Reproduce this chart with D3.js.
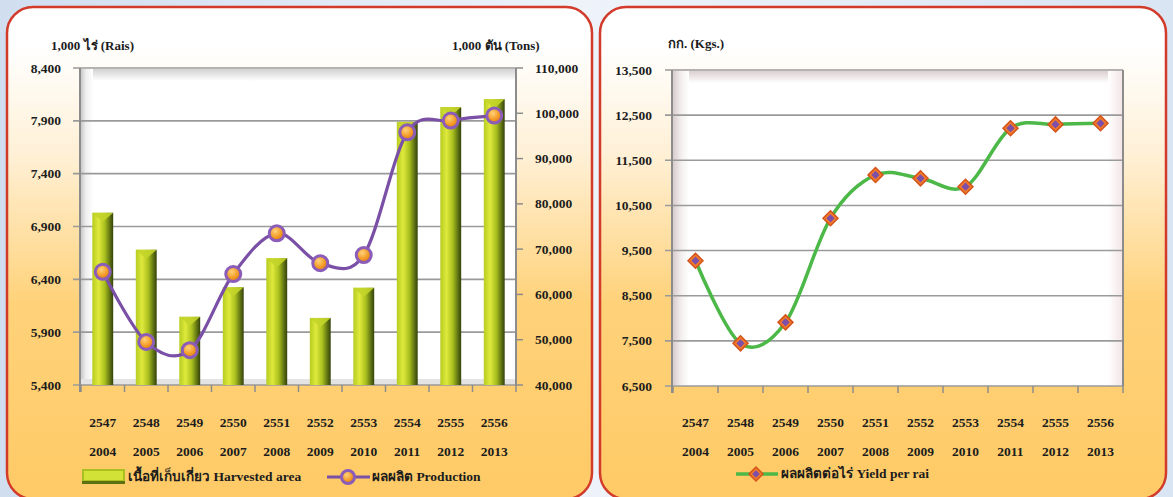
<!DOCTYPE html>
<html>
<head>
<meta charset="utf-8">
<script src="https://cdn.jsdelivr.net/npm/d3@7"></script>
<style>
  html, body { margin: 0; padding: 0; background: #ffffff; }
  svg { display: block; }
  text { font-family: "Liberation Serif", "Times New Roman", serif; font-weight: bold; fill: #1c1c1c; }
</style>
</head>
<body>
<svg id="chart" width="1173" height="497"></svg>
<script>
// data
var yearsBE = ["2547", "2548", "2549", "2550", "2551", "2552", "2553", "2554", "2555", "2556"];
var yearsCE = ["2004", "2005", "2006", "2007", "2008", "2009", "2010", "2011", "2012", "2013"];
var harvestedArea = [7030, 6680, 6045, 6325, 6600, 6035, 6320, 7890, 8030, 8105];
var production = [65000, 49500, 47700, 64500, 73500, 66900, 68700, 95800, 98400, 99500];
var yieldPerRai = [9275, 7445, 7910, 10215, 11175, 11100, 10915, 12210, 12295, 12320];
var areaTicks = [5400, 5900, 6400, 6900, 7400, 7900, 8400];
var prodTicks = [40000, 50000, 60000, 70000, 80000, 90000, 100000, 110000];
var yieldTicks = [6500, 7500, 8500, 9500, 10500, 11500, 12500, 13500];

var svg = d3.select("#chart");
var defs = svg.append("defs");
var fmt = d3.format(",");

function linGrad(id, x2, y2, stops) {
  var g = defs.append("linearGradient").attr("id", id)
    .attr("x1", 0).attr("y1", 0).attr("x2", x2).attr("y2", y2);
  stops.forEach(function (s) {
    g.append("stop").attr("offset", s[0]).attr("stop-color", s[1]);
  });
}

linGrad("bgGrad", 1, 0, [[0, "#d0def0"], [0.5, "#eef3fa"], [1, "#d9e5f3"]]);
linGrad("panelGrad", 0, 1, [[0, "#ffffff"], [0.08, "#ffffff"], [0.3, "#fff0d6"], [0.6, "#ffd27a"], [1, "#ffca66"]]);
linGrad("barGrad", 1, 0, [[0, "#b7cc22"], [0.3, "#dfe93c"], [0.6, "#a9bf1e"], [0.85, "#5d7012"], [1, "#34420a"]]);
linGrad("wallLeft", 1, 0, [[0, "#c9c9c9"], [0.4, "#eeeeee"], [1, "#ffffff"]]);
linGrad("wallTop", 0, 1, [[0, "#d2d2d2"], [1, "#ffffff"]]);
linGrad("wallLeftR", 1, 0, [[0, "#d8cccc"], [0.5, "#f3eeee"], [1, "#ffffff"]]);
linGrad("wallTopR", 0, 1, [[0, "#dccfcf"], [1, "#ffffff"]]);
linGrad("wallRightR", 1, 0, [[0, "#ffffff"], [1, "#f4e6e6"]]);
var rg = defs.append("radialGradient").attr("id", "dotGrad").attr("cx", 0.4).attr("cy", 0.35).attr("r", 0.7);
rg.append("stop").attr("offset", 0).attr("stop-color", "#ffd27a");
rg.append("stop").attr("offset", 0.6).attr("stop-color", "#f39a24");
rg.append("stop").attr("offset", 1).attr("stop-color", "#d9731a");

// page background + panels
svg.append("rect").attr("width", 1173).attr("height", 497).attr("fill", "url(#bgGrad)");
[[7, 585], [600, 566]].forEach(function (p) {
  svg.append("rect").attr("x", p[0]).attr("y", 7).attr("width", p[1]).attr("height", 492)
    .attr("rx", 26).attr("fill", "url(#panelGrad)")
    .attr("stroke", "#d23a2a").attr("stroke-width", 2.5);
});

// ---------- left chart ----------
var x1 = d3.scaleBand().domain(yearsBE).range([81, 516]);
var yArea = d3.scaleLinear().domain([5400, 8400]).range([385, 68]);
var yProd = d3.scaleLinear().domain([40000, 110000]).range([385, 68]);

var left = svg.append("g");
left.append("rect").attr("x", 80).attr("y", 68).attr("width", 436).attr("height", 317).attr("fill", "#ffffff");
left.append("rect").attr("x", 81).attr("y", 69).attr("width", 434).attr("height", 12).attr("fill", "url(#wallTop)");
left.append("rect").attr("x", 81).attr("y", 69).attr("width", 12).attr("height", 315).attr("fill", "url(#wallLeft)");
left.append("rect").attr("x", 81).attr("y", 379).attr("width", 434).attr("height", 6).attr("fill", "#e4e4e4");

left.append("g").selectAll("line").data(areaTicks).join("line")
  .attr("x1", 73).attr("x2", 516)
  .attr("y1", function (d) { return yArea(d); }).attr("y2", function (d) { return yArea(d); })
  .attr("stroke", "#9a9a9a").attr("stroke-width", 1.6);
left.append("line").attr("x1", 80).attr("x2", 80).attr("y1", 68).attr("y2", 392)
  .attr("stroke", "#8c8c8c").attr("stroke-width", 2);
left.append("line").attr("x1", 516).attr("x2", 516).attr("y1", 68).attr("y2", 385)
  .attr("stroke", "#8c8c8c").attr("stroke-width", 2);
left.append("g").selectAll("line").data(prodTicks).join("line")
  .attr("x1", 516).attr("x2", 523)
  .attr("y1", function (d) { return yProd(d); }).attr("y2", function (d) { return yProd(d); })
  .attr("stroke", "#8c8c8c").attr("stroke-width", 1.5);
left.append("g").selectAll("line").data(yearsBE.concat(["end"])).join("line")
  .attr("x1", function (d, i) { return 81 + i * x1.bandwidth(); })
  .attr("x2", function (d, i) { return 81 + i * x1.bandwidth(); })
  .attr("y1", 385).attr("y2", 392)
  .attr("stroke", "#8c8c8c").attr("stroke-width", 1.5);

// bars
var bw = x1.bandwidth() * 0.48;
var bars = left.append("g").selectAll("g").data(harvestedArea).join("g");
bars.append("rect")
  .attr("x", function (d, i) { return x1(yearsBE[i]) + x1.bandwidth() / 2 - bw / 2; })
  .attr("y", function (d) { return yArea(d); })
  .attr("width", bw)
  .attr("height", function (d) { return yArea(5400) - yArea(d); })
  .attr("fill", "url(#barGrad)");
bars.append("path")
  .attr("d", function (d, i) {
    var x0 = x1(yearsBE[i]) + x1.bandwidth() / 2 - bw / 2, y0 = yArea(d);
    return "M" + x0 + "," + y0 + "L" + (x0 + bw) + "," + y0 + "L" + (x0 + bw / 2) + "," + (y0 + 9) + "Z";
  })
  .attr("fill", "#c3d42a").attr("opacity", 0.9);

// production line
var smooth = d3.line()
  .x(function (d, i) { return x1(yearsBE[i]) + x1.bandwidth() / 2; })
  .y(function (d) { return yProd(d); })
  .curve(d3.curveCardinal.tension(0));
left.append("path").datum(production).attr("d", smooth)
  .attr("fill", "none").attr("stroke", "#7a4fa6").attr("stroke-width", 3.2);
left.append("g").selectAll("circle").data(production).join("circle")
  .attr("cx", function (d, i) { return x1(yearsBE[i]) + x1.bandwidth() / 2; })
  .attr("cy", function (d) { return yProd(d); })
  .attr("r", 7.5)
  .attr("fill", "url(#dotGrad)").attr("stroke", "#8b5cb8").attr("stroke-width", 3);

// axis labels
left.append("g").selectAll("text").data(areaTicks).join("text")
  .attr("x", 61).attr("y", function (d) { return yArea(d) + 4.5; })
  .attr("text-anchor", "end").attr("font-size", 13.5).text(fmt);
left.append("g").selectAll("text").data(prodTicks).join("text")
  .attr("x", 535).attr("y", function (d) { return yProd(d) + 4.5; })
  .attr("font-size", 13.5).text(fmt);
left.append("g").selectAll("text").data(yearsBE).join("text")
  .attr("x", function (d) { return x1(d) + x1.bandwidth() / 2; }).attr("y", 427)
  .attr("text-anchor", "middle").attr("font-size", 13.5).text(function (d) { return d; });
left.append("g").selectAll("text").data(yearsCE).join("text")
  .attr("x", function (d, i) { return x1(yearsBE[i]) + x1.bandwidth() / 2; }).attr("y", 456)
  .attr("text-anchor", "middle").attr("font-size", 13.5).text(function (d) { return d; });
left.append("text").attr("x", 51).attr("y", 50).attr("font-size", 13).text("1,000 ไร่ (Rais)");
left.append("text").attr("x", 452).attr("y", 50).attr("font-size", 13).text("1,000 ตัน (Tons)");

// legend
left.append("rect").attr("x", 82).attr("y", 469).attr("width", 43).attr("height", 15).attr("fill", "#a9c020");
left.append("rect").attr("x", 84).attr("y", 471).attr("width", 39).attr("height", 9).attr("fill", "#d2e236");
left.append("rect").attr("x", 82).attr("y", 481).attr("width", 43).attr("height", 3).attr("fill", "#5d7012");
left.append("text").attr("x", 128).attr("y", 481).attr("font-size", 13.5).text("เนื้อที่เก็บเกี่ยว Harvested area");
left.append("line").attr("x1", 327).attr("x2", 370).attr("y1", 477).attr("y2", 477)
  .attr("stroke", "#7a4fa6").attr("stroke-width", 3);
left.append("circle").attr("cx", 348).attr("cy", 477).attr("r", 6.5)
  .attr("fill", "url(#dotGrad)").attr("stroke", "#8b5cb8").attr("stroke-width", 3);
left.append("text").attr("x", 372).attr("y", 481).attr("font-size", 13.5).text("ผลผลิต Production");

// ---------- right chart ----------
var x2 = d3.scaleBand().domain(yearsBE).range([673, 1123]);
var yYield = d3.scaleLinear().domain([6500, 13500]).range([386, 70]);

var right = svg.append("g");
right.append("rect").attr("x", 672).attr("y", 70).attr("width", 451).attr("height", 316).attr("fill", "#ffffff");
right.append("rect").attr("x", 673).attr("y", 71).attr("width", 449).attr("height", 12).attr("fill", "url(#wallTopR)");
right.append("rect").attr("x", 673).attr("y", 71).attr("width", 16).attr("height", 314).attr("fill", "url(#wallLeftR)");
right.append("rect").attr("x", 1108).attr("y", 71).attr("width", 14).attr("height", 314).attr("fill", "url(#wallRightR)");

right.append("g").selectAll("line").data(yieldTicks).join("line")
  .attr("x1", 665).attr("x2", 1123)
  .attr("y1", function (d) { return yYield(d); }).attr("y2", function (d) { return yYield(d); })
  .attr("stroke", "#9a9a9a").attr("stroke-width", 1.6);
right.append("line").attr("x1", 672).attr("x2", 672).attr("y1", 70).attr("y2", 393)
  .attr("stroke", "#8c8c8c").attr("stroke-width", 2);
right.append("line").attr("x1", 1123).attr("x2", 1123).attr("y1", 70).attr("y2", 386)
  .attr("stroke", "#8c8c8c").attr("stroke-width", 2);
right.append("g").selectAll("line").data(yearsBE.concat(["end"])).join("line")
  .attr("x1", function (d, i) { return 673 + i * x2.bandwidth(); })
  .attr("x2", function (d, i) { return 673 + i * x2.bandwidth(); })
  .attr("y1", 386).attr("y2", 393)
  .attr("stroke", "#8c8c8c").attr("stroke-width", 1.5);

var smooth2 = d3.line()
  .x(function (d, i) { return x2(yearsBE[i]) + x2.bandwidth() / 2; })
  .y(function (d) { return yYield(d); })
  .curve(d3.curveCardinal.tension(0));
right.append("path").datum(yieldPerRai).attr("d", smooth2)
  .attr("fill", "none").attr("stroke", "#4cb847").attr("stroke-width", 3.5);

function diamond(g, cx, cy, r) {
  g.append("path")
    .attr("d", "M" + cx + "," + (cy - r) + "L" + (cx + r) + "," + cy + "L" + cx + "," + (cy + r) + "L" + (cx - r) + "," + cy + "Z")
    .attr("fill", "#f07a2a").attr("stroke", "#d4541c").attr("stroke-width", 1.5);
  var s = r * 0.55;
  g.append("path")
    .attr("d", "M" + cx + "," + (cy - s) + "L" + (cx + s) + "," + cy + "L" + cx + "," + (cy + s) + "L" + (cx - s) + "," + cy + "Z")
    .attr("fill", "#7d4fa8");
}
var marks = right.append("g");
yieldPerRai.forEach(function (d, i) {
  diamond(marks, x2(yearsBE[i]) + x2.bandwidth() / 2, yYield(d), 7.5);
});

right.append("g").selectAll("text").data(yieldTicks).join("text")
  .attr("x", 652).attr("y", function (d) { return yYield(d) + 4.5; })
  .attr("text-anchor", "end").attr("font-size", 13.5).text(fmt);
right.append("g").selectAll("text").data(yearsBE).join("text")
  .attr("x", function (d) { return x2(d) + x2.bandwidth() / 2; }).attr("y", 427)
  .attr("text-anchor", "middle").attr("font-size", 13.5).text(function (d) { return d; });
right.append("g").selectAll("text").data(yearsCE).join("text")
  .attr("x", function (d, i) { return x2(yearsBE[i]) + x2.bandwidth() / 2; }).attr("y", 456)
  .attr("text-anchor", "middle").attr("font-size", 13.5).text(function (d) { return d; });
right.append("text").attr("x", 668).attr("y", 48).attr("font-size", 13).text("กก. (Kgs.)");

right.append("line").attr("x1", 736).attr("x2", 778).attr("y1", 474).attr("y2", 474)
  .attr("stroke", "#4cb847").attr("stroke-width", 3.5);
diamond(right, 756, 474, 7);
right.append("text").attr("x", 781).attr("y", 478).attr("font-size", 13.5).text("ผลผลิตต่อไร่ Yield per rai");
</script>
</body>
</html>
